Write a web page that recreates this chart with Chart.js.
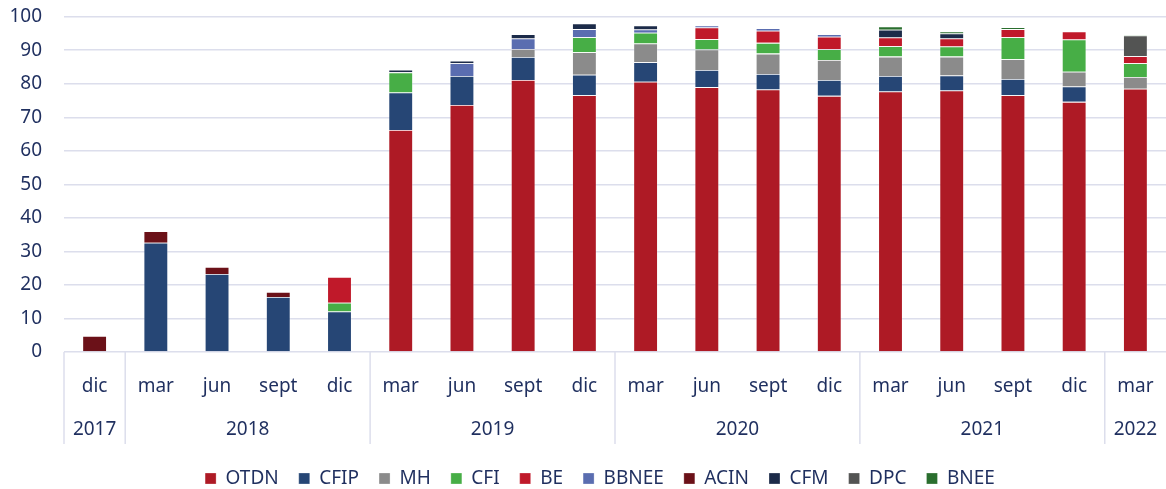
<!DOCTYPE html>
<html>
<head>
<meta charset="utf-8">
<script src="https://cdn.jsdelivr.net/npm/chart.js@4/dist/chart.umd.min.js"></script>
<style>
  html, body { margin: 0; padding: 0; background: #fff; overflow: hidden; }
  #wrap { width: 1166px; height: 500px; position: relative; }
</style>
</head>
<body>
<div id="wrap"><canvas id="chart"></canvas></div>
<script>
const months = ['dic', 'mar', 'jun', 'sept', 'dic', 'mar', 'jun', 'sept', 'dic', 'mar', 'jun', 'sept', 'dic', 'mar', 'jun', 'sept', 'dic', 'mar'];
const years = ['2017', '2018', '2019', '2020', '2021', '2022'];
const yearSpans = [1, 4, 4, 4, 4, 1];

const otdn  = [null, null, null, null, null, 66.2, 73.7, 81.1, 76.6, 80.6, 79.0, 78.3, 76.4, 77.7, 78.0, 76.6, 74.6, 78.5];
const cfip  = [null, 32.6, 23.3, 16.4, 12.1, 11.2, 8.6, 6.9, 6.1, 5.8, 5.1, 4.6, 4.7, 4.6, 4.5, 4.8, 4.6, null];
const mh    = [null, null, null, null, null, null, null, 2.4, 6.7, 5.6, 6.1, 6.1, 6.0, 5.8, 5.6, 5.9, 4.4, 3.5];
const cfi   = [null, null, null, null, 2.6, 6.0, null, null, 4.5, 3.2, 3.1, 3.2, 3.2, 3.1, 3.0, 6.6, 9.6, 4.1];
const be    = [null, null, null, null, 7.7, null, null, null, null, null, 3.5, 3.6, 3.7, 2.6, 2.4, 2.4, 2.4, 2.1];
const bbnee = [null, null, null, null, null, null, 3.8, 3.1, 2.4, 1.0, 0.6, 0.8, 0.8, null, null, null, null, null];
const acin  = [4.8, 3.4, 2.1, 1.5, null, null, null, null, null, null, null, null, null, null, null, null, null, null];
const cfm   = [null, null, null, null, null, 0.8, 0.8, 1.3, 1.7, 1.2, null, null, null, 2.3, 1.5, null, null, null];
const dpc   = [null, null, null, null, null, null, null, null, null, null, null, null, null, null, null, null, null, 6.2];
const bnee  = [null, null, null, null, null, null, null, null, null, null, null, null, null, 1.0, 0.6, 0.6, null, 0.2];

const textColor = '#1F2F5F';
const gridColor = '#DCDEEC';
const font = 'Noto Sans';

// year labels and separators under the month labels
const yearAxisPlugin = {
    id: 'yearAxis',
    afterLayout(chart) {
        // legend sits a little right of the canvas centre in the original
        chart.legend.left += 17;
        chart.legend.right += 17;
    },
    afterDraw(chart) {
        const ctx = chart.ctx;
        const x = chart.scales.x;
        const area = chart.chartArea;
        const half = (x.getPixelForTick(1) - x.getPixelForTick(0)) / 2;
        ctx.save();
        ctx.strokeStyle = gridColor;
        ctx.lineWidth = 1.5;
        ctx.fillStyle = textColor;
        ctx.font = '19px "' + font + '"';
        ctx.textAlign = 'center';
        ctx.textBaseline = 'middle';
        let start = 0;
        years.forEach((y, i) => {
            const end = start + yearSpans[i] - 1;
            const left = x.getPixelForTick(start) - half;
            ctx.beginPath();
            ctx.moveTo(left, area.bottom);
            ctx.lineTo(left, area.bottom + 92);
            ctx.stroke();
            const mid = (x.getPixelForTick(start) + x.getPixelForTick(end)) / 2;
            ctx.fillText(y, mid, area.bottom + 78);
            start = end + 1;
        });
        ctx.restore();
    }
};

const series = [
    ['OTDN', otdn, '#AE1A25'],
    ['CFIP', cfip, '#264675'],
    ['MH', mh, '#8B8B8B'],
    ['CFI', cfi, '#47AE46'],
    ['BE', be, '#C0192A'],
    ['BBNEE', bbnee, '#5A6DB0'],
    ['ACIN', acin, '#6B1118'],
    ['CFM', cfm, '#1C2B49'],
    ['DPC', dpc, '#535453'],
    ['BNEE', bnee, '#2A6E2E']
];

new Chart(document.getElementById('chart'), {
    type: 'bar',
    data: {
        labels: months,
        datasets: series.map(s => ({
            label: s[0],
            data: s[1],
            backgroundColor: s[2],
            borderColor: 'rgba(255,255,255,0.35)',
            borderWidth: 0.8,
            categoryPercentage: 1,
            barPercentage: 0.4
        }))
    },
    options: {
        responsive: true,
        maintainAspectRatio: false,
        animation: false,
        layout: { padding: { top: 0, left: 0, right: 0, bottom: 2 } },
        plugins: {
            tooltip: { enabled: false },
            legend: {
                position: 'bottom',
                labels: {
                    color: textColor,
                    font: { family: font, size: 19 },
                    boxWidth: 11,
                    boxHeight: 11,
                    padding: 20
                }
            }
        },
        scales: {
            x: {
                stacked: true,
                grid: { display: false },
                border: { display: false },
                ticks: {
                    color: textColor,
                    font: { family: font, size: 19 },
                    padding: 15,
                    maxRotation: 0
                },
                afterFit(axis) {
                    axis.height = 97;
                    axis.paddingLeft = 0;
                    axis.paddingRight = 0;
                }
            },
            y: {
                stacked: true,
                min: 0,
                max: 100,
                border: { display: false },
                grid: { color: gridColor, lineWidth: 1.5, drawTicks: false },
                ticks: {
                    stepSize: 10,
                    color: textColor,
                    font: { family: font, size: 19 },
                    padding: 22
                },
                afterFit(axis) {
                    axis.width = 64;
                    axis.paddingTop = 16.7;
                    axis.paddingBottom = 0;
                }
            }
        }
    },
    plugins: [yearAxisPlugin]
});
</script>
</body>
</html>
